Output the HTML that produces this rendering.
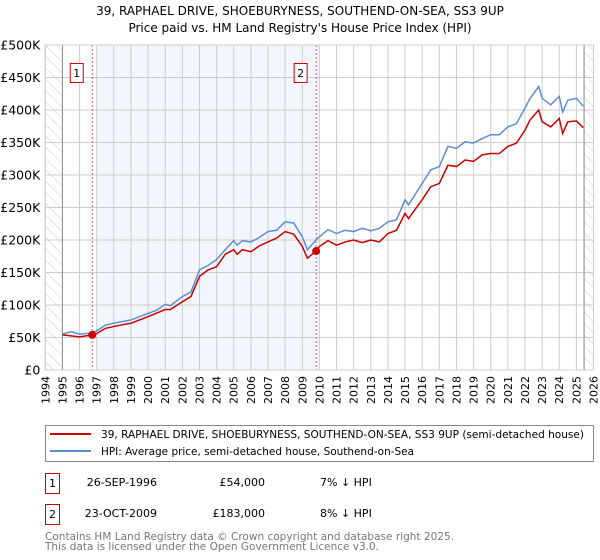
<!DOCTYPE html>
<html><head><meta charset="utf-8"><style>
body{margin:0;background:#fff;font-family:"DejaVu Sans","Liberation Sans",sans-serif;}
#wrap{position:relative;width:600px;height:560px;overflow:hidden;}
</style></head><body>
<div id="wrap">
<svg id="chart" width="600" height="560" xmlns="http://www.w3.org/2000/svg" font-family="DejaVu Sans, Liberation Sans, sans-serif" style="position:absolute;left:0;top:0">
<defs>
<pattern id="hatch" width="8" height="8" patternUnits="userSpaceOnUse" patternTransform="rotate(-45)">
<line x1="0" y1="0" x2="0" y2="8" stroke="#ccc" stroke-width="1"/>
</pattern>
</defs>
<text x="300" y="15" text-anchor="middle" font-size="12">39, RAPHAEL DRIVE, SHOEBURYNESS, SOUTHEND-ON-SEA, SS3 9UP</text>
<text x="300" y="32" text-anchor="middle" font-size="12">Price paid vs. HM Land Registry's House Price Index (HPI)</text>
<g id="grid"></g>
<g id="marks"></g>
<g id="axes"></g>
<g>
 <rect x="45.5" y="425.5" width="548" height="36" fill="#fff" stroke="#888" stroke-width="1"/>
 <g>
  <line x1="50" y1="434" x2="91" y2="434" stroke="#cc0000" stroke-width="2"/>
  <text x="101" y="438" font-size="11" textLength="483" lengthAdjust="spacingAndGlyphs">39, RAPHAEL DRIVE, SHOEBURYNESS, SOUTHEND-ON-SEA, SS3 9UP (semi-detached house)</text>
 </g>
 <g>
  <line x1="50" y1="451" x2="91" y2="451" stroke="#5b8ed4" stroke-width="2"/>
  <text x="101" y="455" font-size="11" textLength="313" lengthAdjust="spacingAndGlyphs">HPI: Average price, semi-detached house, Southend-on-Sea</text>
 </g>
</g>
<g fill="#777" font-size="11">
 <text x="45" y="540" textLength="409" lengthAdjust="spacingAndGlyphs">Contains HM Land Registry data © Crown copyright and database right 2025.</text>
 <text x="45" y="550" textLength="334" lengthAdjust="spacingAndGlyphs">This data is licensed under the Open Government Licence v3.0.</text>
</g>
</svg>
<div style="position:absolute;left:0;top:473px;width:600px;height:22px;font-size:11px;">
 <div style="position:absolute;left:45px;top:0;width:13px;height:19px;border:1px solid #cc0000;text-align:center;line-height:19px;">1</div>
 <span style="position:absolute;right:443px;top:3px;">26-SEP-1996</span>
 <span style="position:absolute;right:335px;top:3px;">£54,000</span>
 <span style="position:absolute;left:320px;top:3px;">7% ↓ HPI</span>
</div>
<div style="position:absolute;left:0;top:504px;width:600px;height:22px;font-size:11px;">
 <div style="position:absolute;left:45px;top:0;width:13px;height:19px;border:1px solid #cc0000;text-align:center;line-height:19px;">2</div>
 <span style="position:absolute;right:443px;top:3px;">23-OCT-2009</span>
 <span style="position:absolute;right:335px;top:3px;">£183,000</span>
 <span style="position:absolute;left:320px;top:3px;">8% ↓ HPI</span>
</div>
</div>
<script>
const hpiYears=[1995,1995.5,1996,1996.7,1997,1997.5,1998,1999,2000,2000.5,2001,2001.3,2002,2002.5,2003,2003.5,2004,2004.5,2005,2005.2,2005.5,2006,2006.5,2007,2007.5,2008,2008.5,2009,2009.3,2009.8,2010,2010.5,2011,2011.5,2012,2012.5,2013,2013.5,2014,2014.5,2015,2015.2,2016,2016.5,2017,2017.5,2018,2018.5,2019,2019.5,2020,2020.5,2021,2021.5,2022,2022.3,2022.8,2023,2023.5,2024,2024.2,2024.5,2025,2025.4];
const hpiValues=[55,59,55,57,60,69,72,77,87,92,101,99,113,120,154,161,170,185,199,192,199,197,204,213,215,228,226,205,185,200,205,216,210,215,213,218,214,218,228,231,262,254,287,308,313,344,341,351,349,356,362,362,374,379,403,418,436,418,408,421,397,415,418,406];
const priceYears=[1995,1996,1996.74,1997,1997.5,1998,1999,2000,2001,2001.3,2002,2002.5,2003,2003.5,2004,2004.5,2005,2005.2,2005.5,2006,2006.5,2007,2007.5,2008,2008.5,2009,2009.3,2009.81,2010,2010.5,2011,2011.5,2012,2012.5,2013,2013.5,2014,2014.5,2015,2015.2,2016,2016.5,2017,2017.5,2018,2018.5,2019,2019.5,2020,2020.5,2021,2021.5,2022,2022.3,2022.8,2023,2023.5,2024,2024.2,2024.5,2025,2025.4];
const priceValues=[54,51,54,56,64,67,72,82,93,93,105,113,144,154,159,178,185,178,185,182,191,197,203,213,209,190,172,183,190,199,192,197,200,196,200,197,210,215,241,233,262,282,287,315,313,323,321,331,333,333,344,349,369,385,400,382,374,387,364,382,383,373];
const saleYears=[1996.74,2009.81];
const saleValues=[54,183];
const saleLabels=["1","2"];
const yTicks=[0,50,100,150,200,250,300,350,400,450,500];
const yTickLabels=["£0","£50K","£100K","£150K","£200K","£250K","£300K","£350K","£400K","£450K","£500K"];
const xStart=1994,xEnd=2026,dataStart=1995,dataEnd=2025.45;
const L=45.3,R=593.5,T=45,B=370;
const X=y=>L+(y-xStart)/(xEnd-xStart)*(R-L);
const Y=v=>B-v/500*(B-T);
const NS="http://www.w3.org/2000/svg";
function mk(tag,attrs,parent){const e=document.createElementNS(NS,tag);for(const k in attrs)e.setAttribute(k,attrs[k]);parent.appendChild(e);return e;}
const grid=document.getElementById('grid'),marks=document.getElementById('marks'),axes=document.getElementById('axes');
let sh=mk('rect',{x:X(1997),y:T,width:X(2010)-X(1997),height:B-T,fill:'#eef3fc',opacity:0.7},grid);


let h1=mk('rect',{x:L,y:T,width:X(dataStart)-L,height:B-T,fill:'url(#hatch)'},grid);


let h2=mk('rect',{x:X(dataEnd),y:T,width:R-X(dataEnd),height:B-T,fill:'url(#hatch)'},grid);


for(let yr=xStart;yr<=xEnd;yr++){
 const l=mk('line',{x1:X(yr),x2:X(yr),y1:T,y2:B,stroke:'#ccc','stroke-width':1},grid);
 
 
 const t=mk('text',{x:0,y:0,'font-size':11,'text-anchor':'end',transform:`translate(${X(yr)+4},${B+6}) rotate(-90)`},axes);
 t.textContent=String(yr);
 
 
}
yTicks.forEach((v,i)=>{
 const l=mk('line',{x1:L,x2:R,y1:Y(v),y2:Y(v),stroke:'#ccc','stroke-width':1},grid);
 
 
 const t=mk('text',{x:L-5,y:Y(v)+4.5,'font-size':12.5,'text-anchor':'end'},axes);
 t.textContent=yTickLabels[i];
 
 
});
[dataStart,dataEnd].forEach(yr=>{
 const l=mk('line',{x1:X(yr),x2:X(yr),y1:T,y2:B,stroke:'#999','stroke-width':1.2},grid);
 
 
});
saleYears.forEach((yr,i)=>{
 const l=mk('line',{x1:X(yr),x2:X(yr),y1:T,y2:B,stroke:'#e06060','stroke-width':1,'stroke-dasharray':'2,2'},marks);
 
 
 const r=mk('rect',{x:X(yr)-22,y:63.5,width:13,height:19,fill:'#fff',stroke:'#cc0000','stroke-width':1},marks);
 
 
 const t=mk('text',{x:X(yr)-15.5,y:77,'font-size':11,'text-anchor':'middle'},marks);
 t.textContent=saleLabels[i];
 
 
});
const hp=mk('polyline',{points:hpiYears.map((y,i)=>X(y)+','+Y(hpiValues[i])).join(' '),fill:'none',stroke:'#5b8ed4','stroke-width':1.5},marks);


const pp=mk('polyline',{points:priceYears.map((y,i)=>X(y)+','+Y(priceValues[i])).join(' '),fill:'none',stroke:'#cc0000','stroke-width':1.5},marks);


saleYears.forEach((yr,i)=>{
 const c=mk('circle',{cx:X(yr),cy:Y(saleValues[i]),r:4,fill:'#cc0000'},marks);
 
 
});
const fr=mk('rect',{x:L,y:T,width:R-L,height:B-T,fill:'none',stroke:'#ccc','stroke-width':1},axes);


</script>
</body></html>
